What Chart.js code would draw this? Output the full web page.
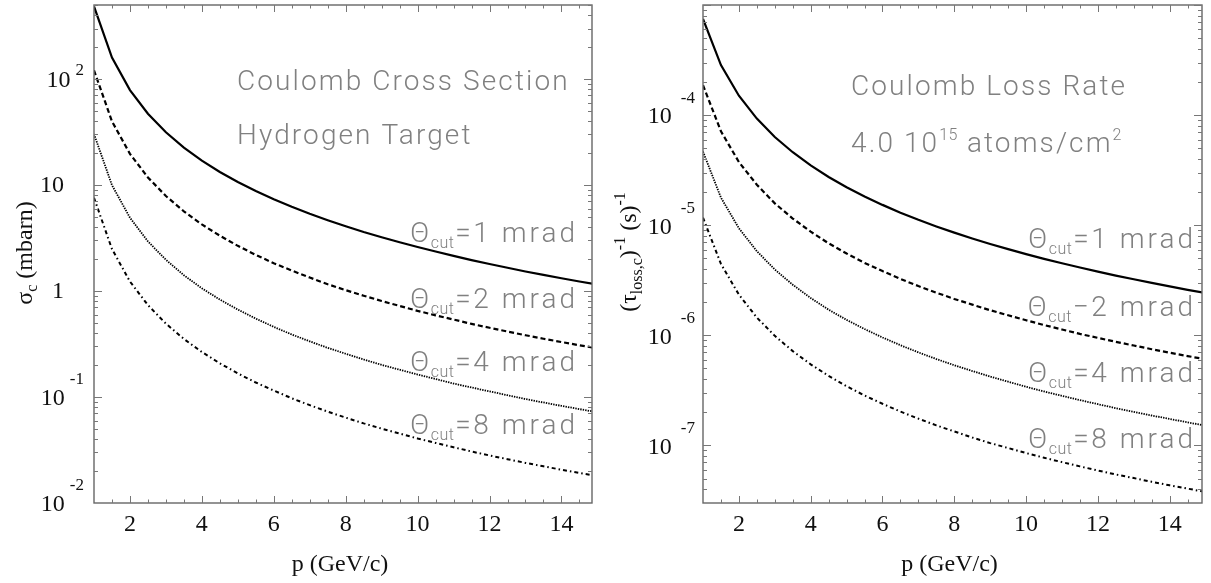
<!DOCTYPE html>
<html>
<head>
<meta charset="utf-8">
<script src="https://cdn.jsdelivr.net/npm/chart.js@4.4.1/dist/chart.umd.min.js"></script>
<style>
body{margin:0;background:#fff;width:1211px;height:583px;overflow:hidden;position:relative}
canvas{position:absolute;top:0}
</style>
</head>
<body>
<canvas id="crossSection" width="605" height="583" style="left:0"></canvas>
<canvas id="lossRate" width="606" height="583" style="left:605px"></canvas>
<script>
// momentum p (GeV/c)
var momentum = [1,1.5,2,2.5,3,3.5,4,4.5,5,5.5,6,6.5,7,7.5,8,8.5,9,9.5,10,10.5,11,11.5,12,12.5,13,13.5,14,14.5,15];

// Coulomb cross section (mbarn), one list per cut angle
var sigma1mrad = [485,159.5,78.7,47.1,31.5,22.6,17.0,13.3,10.68,8.78,7.34,6.23,5.36,4.66,4.09,3.61,3.22,2.89,2.60,2.36,2.15,1.96,1.80,1.66,1.53,1.42,1.32,1.23,1.15];
var sigma2mrad = [121,39.9,19.7,11.8,7.88,5.65,4.25,3.33,2.67,2.19,1.83,1.56,1.34,1.16,1.02,0.903,0.805,0.723,0.650,0.590,0.538,0.490,0.450,0.415,0.383,0.355,0.330,0.308,0.288];
var sigma4mrad = [30.3,9.97,4.92,2.94,1.97,1.41,1.06,0.831,0.668,0.549,0.459,0.389,0.335,0.291,0.256,0.226,0.201,0.181,0.163,0.148,0.134,0.123,0.113,0.104,0.0956,0.0888,0.0825,0.0769,0.0719];
var sigma8mrad = [7.58,2.49,1.23,0.736,0.492,0.353,0.266,0.208,0.167,0.137,0.115,0.0973,0.0838,0.0728,0.0639,0.0564,0.0503,0.0452,0.0406,0.0369,0.0336,0.0306,0.0281,0.0259,0.0239,0.0222,0.0206,0.0192,0.0180];

// Coulomb loss rate (1/s)
var rate1mrad = [7.46e-4,2.85e-4,1.50e-4,9.30e-5,6.33e-5,4.60e-5,3.49e-5,2.74e-5,2.21e-5,1.82e-5,1.53e-5,1.30e-5,1.12e-5,9.75e-6,8.56e-6,7.58e-6,6.75e-6,6.06e-6,5.46e-6,4.95e-6,4.51e-6,4.13e-6,3.79e-6,3.49e-6,3.23e-6,2.99e-6,2.78e-6,2.59e-6,2.42e-6];
var rate2mrad = [1.87e-4,7.13e-5,3.75e-5,2.33e-5,1.58e-5,1.15e-5,8.73e-6,6.85e-6,5.53e-6,4.55e-6,3.83e-6,3.25e-6,2.80e-6,2.44e-6,2.14e-6,1.90e-6,1.69e-6,1.52e-6,1.37e-6,1.24e-6,1.13e-6,1.03e-6,9.48e-7,8.73e-7,8.08e-7,7.48e-7,6.95e-7,6.48e-7,6.05e-7];
var rate4mrad = [4.66e-5,1.78e-5,9.38e-6,5.81e-6,3.96e-6,2.88e-6,2.18e-6,1.71e-6,1.38e-6,1.14e-6,9.56e-7,8.13e-7,7.00e-7,6.09e-7,5.35e-7,4.74e-7,4.22e-7,3.79e-7,3.41e-7,3.09e-7,2.82e-7,2.58e-7,2.37e-7,2.18e-7,2.02e-7,1.87e-7,1.74e-7,1.62e-7,1.51e-7];
var rate8mrad = [1.17e-5,4.45e-6,2.34e-6,1.45e-6,9.89e-7,7.19e-7,5.45e-7,4.28e-7,3.45e-7,2.84e-7,2.39e-7,2.03e-7,1.75e-7,1.52e-7,1.34e-7,1.18e-7,1.05e-7,9.47e-8,8.53e-8,7.73e-8,7.05e-8,6.45e-8,5.92e-8,5.45e-8,5.05e-8,4.67e-8,4.34e-8,4.05e-8,3.78e-8];

var cutAngles = ['1','2','4','8'];

// tick labels
var xTickValues = [2,4,6,8,10,12,14];
var sigmaTickValues = [0.01,0.1,1,10,100];
var sigmaTickBase = ['10','10','1','10','10'];
var sigmaTickExp = ['-2','-1','','','2'];
var rateTickValues = [1e-7,1e-6,1e-5,1e-4];
var rateTickBase = ['10','10','10','10'];
var rateTickExp = ['-7','-6','-5','-4'];

var serif = '"Liberation Serif", "Times New Roman", serif';
var thin = 'Roboto, "Open Sans", "DejaVu Sans", sans-serif';
var noteColor = '#808080';

function points(ys){
    var pts = [];
    for (var i = 0; i < momentum.length; i++) {
        pts.push({x: momentum[i], y: ys[i]});
    }
    return pts;
}

function makeSets(lists){
    var styles = [
        {dash: [], width: 2.2},
        {dash: [5, 3], width: 2.2},
        {dash: [1.4, 1.1], width: 1.8},
        {dash: [4, 3, 1.5, 3], width: 2}
    ];
    return lists.map(function(ys, i){
        return {
            label: 'Θcut=' + cutAngles[i] + ' mrad',
            data: points(ys),
            borderColor: '#000',
            borderWidth: styles[i].width,
            borderDash: styles[i].dash,
            pointRadius: 0,
            tension: 0,
            fill: false
        };
    });
}

// draw a list of text runs {t, size, dy, weight, ls} starting at x (or ending at x)
function drawRuns(ctx, runs, family, x, y, align){
    var total = 0;
    runs.forEach(function(r){
        ctx.font = (r.weight || 'normal') + ' ' + r.size + 'px ' + family;
        ctx.letterSpacing = (r.ls || 0) + 'px';
        r.w = ctx.measureText(r.t).width;
        total += r.w + (r.gap || 0);
    });
    var cx = x;
    if (align == 'right') cx = x - total;
    if (align == 'center') cx = x - total / 2;
    ctx.textAlign = 'left';
    ctx.textBaseline = 'alphabetic';
    runs.forEach(function(r){
        ctx.font = (r.weight || 'normal') + ' ' + r.size + 'px ' + family;
        ctx.letterSpacing = (r.ls || 0) + 'px';
        cx += (r.gap || 0);
        ctx.fillText(r.t, cx, y + (r.dy || 0));
        cx += r.w;
    });
    ctx.letterSpacing = '0px';
}

function note(ctx, text, x, baseline){
    ctx.fillStyle = noteColor;
    drawRuns(ctx, [{t: text, size: 28, weight: '300', ls: 2.1}], thin, x, baseline, 'left');
}

function cutLabel(ctx, angle, sep, xRight, baseline){
    ctx.fillStyle = noteColor;
    drawRuns(ctx, [
        {t: 'Θ', size: 28, weight: '300', ls: 1.5},
        {t: 'cut', size: 16, dy: 6, weight: '300', ls: 0.5},
        {t: sep, size: 28, weight: '300', ls: 2.5, gap: 1},
        {t: angle + ' mrad', size: 28, weight: '300', ls: 3}
    ], thin, xRight, baseline, 'right');
}

// frame, inward ticks on all four sides, tick labels
var framePlugin = {
    id: 'frame',
    afterDraw: function(chart, args, opts){
        var ctx = chart.ctx;
        var a = chart.chartArea;
        var xs = chart.scales.x, ys = chart.scales.y;
        ctx.save();
        ctx.strokeStyle = '#666';
        ctx.lineWidth = 1.4;
        ctx.strokeRect(a.left, a.top, a.right - a.left, a.bottom - a.top);

        ctx.lineWidth = 1;
        ctx.strokeStyle = '#777';
        ctx.beginPath();
        for (var v = 1; v <= 15; v += 0.5) {
            if (v <= xs.min || v >= xs.max) continue;
            var px = Math.round(xs.getPixelForValue(v)) + 0.5;
            var len = (v % 2 == 0) ? 7 : 3.5;
            ctx.moveTo(px, a.bottom); ctx.lineTo(px, a.bottom - len);
            ctx.moveTo(px, a.top); ctx.lineTo(px, a.top + len);
        }
        var k0 = Math.floor(Math.log10(ys.min)), k1 = Math.ceil(Math.log10(ys.max));
        for (var k = k0; k <= k1; k++) {
            for (var m = 1; m <= 9; m++) {
                var val = m * Math.pow(10, k);
                if (val < ys.min * 1.0001 || val > ys.max) continue;
                var py = Math.round(ys.getPixelForValue(val)) + 0.5;
                var l = (m == 1) ? 8 : 4;
                ctx.moveTo(a.left, py); ctx.lineTo(a.left + l, py);
                ctx.moveTo(a.right, py); ctx.lineTo(a.right - l, py);
            }
        }
        ctx.stroke();

        // x tick labels
        ctx.fillStyle = '#111';
        ctx.font = '24px ' + serif;
        ctx.textAlign = 'center';
        ctx.textBaseline = 'middle';
        xTickValues.forEach(function(v){
            ctx.fillText(String(v), xs.getPixelForValue(v), 525);
        });

        // y tick labels, "10" with exponent
        opts.tickValues.forEach(function(v, i){
            var py = ys.getPixelForValue(v);
            var base = opts.tickBase[i], exp = opts.tickExp[i];
            ctx.textBaseline = 'middle';
            if (exp) {
                ctx.font = '17px ' + serif;
                ctx.textAlign = 'right';
                var ew = ctx.measureText(exp).width;
                var raise = exp.charAt(0) == '-' ? 17 : 9;
                ctx.fillText(exp, opts.supRight, py - raise);
                ctx.font = '24px ' + serif;
                ctx.fillText(base, opts.supRight - ew - opts.supGap, py + 2);
            } else {
                ctx.font = '24px ' + serif;
                ctx.textAlign = 'right';
                ctx.fillText(base, opts.plainRight, py + 1);
            }
        });

        // x axis title
        ctx.fillStyle = '#111';
        drawRuns(ctx, [{t: 'p (GeV/c)', size: 24}], serif, (a.left + a.right) / 2 - 3, 571, 'center');

        // y axis title, rotated
        ctx.save();
        ctx.translate(opts.titleX, opts.titleY);
        ctx.rotate(-Math.PI / 2);
        drawRuns(ctx, opts.titleRuns, serif, 0, 8, 'center');
        ctx.restore();

        // notes
        opts.notes(ctx);
        ctx.restore();
    }
};

new Chart(document.getElementById('crossSection'), {
    type: 'line',
    data: {datasets: makeSets([sigma1mrad, sigma2mrad, sigma4mrad, sigma8mrad])},
    options: {
        responsive: false,
        animation: false,
        devicePixelRatio: 1,
        layout: {padding: {left: 94, top: 5, right: 13, bottom: 80}},
        scales: {
            x: {type: 'linear', min: 1, max: 14.85, display: false},
            y: {type: 'logarithmic', min: 0.01, max: 500, display: false}
        },
        plugins: {
            legend: {display: false},
            tooltip: {enabled: false},
            frame: {
                tickValues: sigmaTickValues, tickBase: sigmaTickBase, tickExp: sigmaTickExp,
                supRight: 84, supGap: 5, plainRight: 64,
                titleX: 24, titleY: 253,
                titleRuns: [
                    {t: 'σ', size: 24},
                    {t: 'c', size: 16, dy: 5},
                    {t: ' (mbarn)', size: 24}
                ],
                notes: function(ctx){
                    note(ctx, 'Coulomb Cross Section', 237, 90);
                    note(ctx, 'Hydrogen Target', 237, 144);
                    cutLabel(ctx, cutAngles[0], '=', 578, 242);
                    cutLabel(ctx, cutAngles[1], '=', 578, 308);
                    cutLabel(ctx, cutAngles[2], '=', 578, 371);
                    cutLabel(ctx, cutAngles[3], '=', 578, 434);
                }
            }
        }
    },
    plugins: [framePlugin]
});

new Chart(document.getElementById('lossRate'), {
    type: 'line',
    data: {datasets: makeSets([rate1mrad, rate2mrad, rate4mrad, rate8mrad])},
    options: {
        responsive: false,
        animation: false,
        devicePixelRatio: 1,
        layout: {padding: {left: 98, top: 5, right: 9, bottom: 80}},
        scales: {
            x: {type: 'linear', min: 1, max: 14.9, display: false},
            y: {type: 'logarithmic', min: 3e-8, max: 1e-3, display: false}
        },
        plugins: {
            legend: {display: false},
            tooltip: {enabled: false},
            frame: {
                tickValues: rateTickValues, tickBase: rateTickBase, tickExp: rateTickExp,
                supRight: 90, supGap: 9, plainRight: 62,
                titleX: 23, titleY: 252,
                titleRuns: [
                    {t: '(τ', size: 24},
                    {t: 'loss,c', size: 16, dy: 6},
                    {t: ')', size: 24},
                    {t: '-1', size: 16, dy: -11},
                    {t: ' (s)', size: 24},
                    {t: '-1', size: 16, dy: -11}
                ],
                notes: function(ctx){
                    note(ctx, 'Coulomb Loss Rate', 246, 95);
                    ctx.fillStyle = noteColor;
                    drawRuns(ctx, [
                        {t: '4.0 10', size: 28, weight: '300', ls: 2.1},
                        {t: '15', size: 16, dy: -12, weight: '300', ls: 0.5},
                        {t: ' atoms/cm', size: 28, weight: '300', ls: 2.1},
                        {t: '2', size: 16, dy: -12, weight: '300'}
                    ], thin, 246, 152, 'left');
                    cutLabel(ctx, cutAngles[0], '=', 591, 248);
                    cutLabel(ctx, cutAngles[1], '\u2212', 591, 316);
                    cutLabel(ctx, cutAngles[2], '=', 591, 382);
                    cutLabel(ctx, cutAngles[3], '=', 591, 448);
                }
            }
        }
    },
    plugins: [framePlugin]
});
</script>
</body>
</html>
